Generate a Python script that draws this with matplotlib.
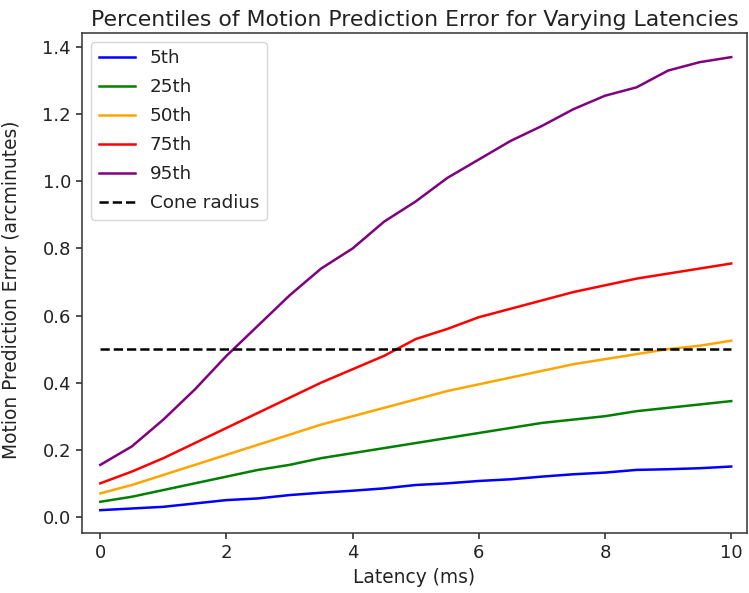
import numpy as np
import matplotlib
matplotlib.use("Agg")
import matplotlib.pyplot as plt

# latency values (ms)
latency = np.arange(0, 10.5, 0.5)

# prediction error percentiles (arcminutes)
p5 = [0.020, 0.025, 0.030, 0.040, 0.050, 0.055, 0.065, 0.072, 0.078, 0.085, 0.095,
      0.100, 0.107, 0.112, 0.120, 0.127, 0.132, 0.140, 0.142, 0.145, 0.150]
p25 = [0.045, 0.060, 0.080, 0.100, 0.120, 0.140, 0.155, 0.175, 0.190, 0.205, 0.220,
       0.235, 0.250, 0.265, 0.280, 0.290, 0.300, 0.315, 0.325, 0.335, 0.345]
p50 = [0.070, 0.095, 0.125, 0.155, 0.185, 0.215, 0.245, 0.275, 0.300, 0.325, 0.350,
       0.375, 0.395, 0.415, 0.435, 0.455, 0.470, 0.485, 0.500, 0.510, 0.525]
p75 = [0.100, 0.135, 0.175, 0.220, 0.265, 0.310, 0.355, 0.400, 0.440, 0.480, 0.530,
       0.560, 0.595, 0.620, 0.645, 0.670, 0.690, 0.710, 0.725, 0.740, 0.755]
p95 = [0.155, 0.210, 0.290, 0.380, 0.480, 0.570, 0.660, 0.740, 0.800, 0.880, 0.940,
       1.010, 1.065, 1.120, 1.165, 1.215, 1.255, 1.280, 1.330, 1.355, 1.370]

cone_radius = 0.5

series = [("5th", p5, "blue"), ("25th", p25, "green"), ("50th", p50, "orange"),
          ("75th", p75, "red"), ("95th", p95, "purple")]

fig = plt.figure(figsize=(7.49, 5.93), dpi=100)
ax = fig.add_axes([0.1095, 0.1012, 0.8878, 0.8432])

for name, vals, col in series:
    ax.plot(latency, vals, color=col, lw=1.8, label=name)
ax.plot([latency[0], latency[-1]], [cone_radius, cone_radius], 'k--', lw=1.8,
        label="Cone radius")

ax.set_xlim(-0.29, 10.25)
ax.set_ylim(-0.048, 1.442)
ax.set_xticks([0, 2, 4, 6, 8, 10])
ax.set_yticks(np.arange(0, 1.41, 0.2))
ax.tick_params(labelsize=13, length=4.5, width=1.1, colors='#222222')
for s in ax.spines.values():
    s.set_linewidth(1.1)
    s.set_color('#333333')

ax.set_xlabel("Latency (ms)", fontsize=13.4, color='#222222')
ax.set_ylabel("Motion Prediction Error (arcminutes)", fontsize=13.4, color='#222222')
ax.yaxis.set_label_coords(-0.093, 0.486)
ax.set_title("Percentiles of Motion Prediction Error for Varying Latencies",
             fontsize=15.8, color='#222222', pad=5)
leg = ax.legend(loc="upper left", fontsize=13.2, labelspacing=0.6)
for t in leg.get_texts():
    t.set_color('#222222')

fig.savefig("out.png", dpi=100)
